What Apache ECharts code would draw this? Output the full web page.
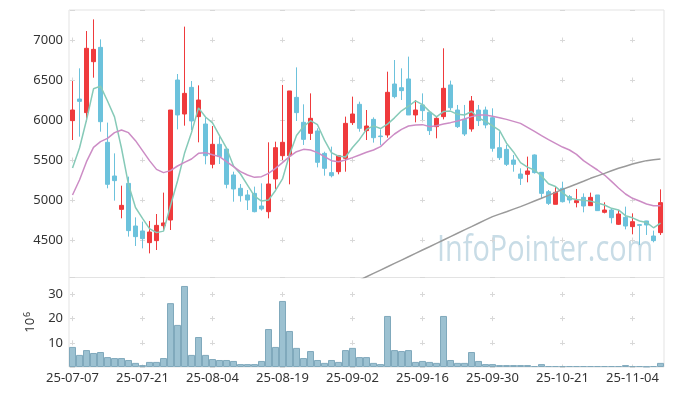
<!DOCTYPE html>
<html><head><meta charset="utf-8">
<script src="https://cdn.jsdelivr.net/npm/echarts@6/dist/echarts.min.js"></script>
<style>html,body{margin:0;padding:0;background:#fff}#c{width:673px;height:396px}</style>
</head><body><div id="c"></div>
<script>
const dates = ['25-07-07','25-07-08','25-07-09','25-07-10','25-07-11','25-07-14','25-07-15','25-07-16','25-07-17','25-07-18',
'25-07-21','25-07-22','25-07-23','25-07-24','25-07-25','25-07-28','25-07-29','25-07-30','25-07-31','25-08-01',
'25-08-04','25-08-05','25-08-06','25-08-07','25-08-08','25-08-11','25-08-12','25-08-13','25-08-14','25-08-18',
'25-08-19','25-08-20','25-08-21','25-08-22','25-08-25','25-08-26','25-08-27','25-08-28','25-08-29','25-09-01',
'25-09-02','25-09-03','25-09-04','25-09-05','25-09-08','25-09-09','25-09-10','25-09-11','25-09-12','25-09-15',
'25-09-16','25-09-17','25-09-18','25-09-19','25-09-22','25-09-23','25-09-24','25-09-25','25-09-26','25-09-29',
'25-09-30','25-10-01','25-10-02','25-10-10','25-10-13','25-10-14','25-10-15','25-10-16','25-10-17','25-10-20',
'25-10-21','25-10-22','25-10-23','25-10-24','25-10-27','25-10-28','25-10-29','25-10-30','25-10-31','25-11-03',
'25-11-04','25-11-05','25-11-06','25-11-07','25-11-10'];
const openP = [5992,6262,6092,6729,6908,5721,5300,4883,5208,4675,4613,4467,4492,4679,4750,6500,6075,6408,6042,5950,
5446,5696,5637,5313,5146,5063,5083,4925,4854,5263,5554,5554,6283,5971,5833,5863,5583,5342,5354,5521,
5967,6196,5867,6008,5800,5813,6450,6404,6513,6063,6188,6096,5917,6042,6438,6125,6008,5888,6125,6125,
6029,5654,5633,5500,5325,5321,5563,5346,5104,4946,5146,5042,4967,5033,4929,5063,4846,4875,4696,4783,
4667,4692,4738,4550,4592];
const closeP = [6125,6233,6896,6883,5979,5196,5242,4933,4617,4542,4517,4600,4683,4713,6125,6063,6333,5988,6250,5554,
5696,5542,5196,5138,5054,5000,4854,4888,5200,5654,5721,6363,6092,5758,6021,5471,5396,5304,5554,5958,
6075,5896,5925,5779,5792,6346,6292,6367,6063,6125,6117,5867,6021,6396,6154,5917,5825,6238,5992,5938,
5646,5529,5446,5446,5271,5363,5342,5083,4958,5096,4979,5000,4992,4925,5033,4867,4875,4779,4825,4675,
4729,4683,4688,4492,4967];
const lowP = [5750,5792,5979,6529,5854,5146,4992,4771,4542,4425,4396,4333,4375,4625,4625,5883,5929,5875,5721,5446,
5396,5450,5146,4979,4979,4875,4846,4867,4771,5138,5500,5196,5988,5688,5750,5408,5304,5283,5321,5354,
5938,5854,5750,5717,5688,5779,6271,6250,6063,5971,6000,5813,5771,6008,6125,5900,5800,5854,5925,5896,
5604,5500,5425,5354,5188,5221,5330,5013,4938,4946,4971,4958,4908,4846,4925,4863,4833,4708,4688,4633,
4571,4438,4563,4471,4563];
const highP = [6487,6646,7112,7258,7008,5967,5583,5179,5292,4783,4729,4738,4825,5092,6125,6575,7167,6487,6433,6033,
5925,5792,5650,5354,5200,5125,5167,5208,5721,5729,6438,6363,6658,6196,6333,5896,5604,5667,5563,6042,
6292,6229,6125,6033,5883,6604,6750,6646,6792,6250,6333,6113,6042,6896,6492,6188,6188,6300,6188,6167,
6146,5854,5688,5563,5396,5542,5570,5350,5125,5175,5229,5063,5138,5083,5092,5063,4971,4888,4875,4917,
4833,4700,4740,4617,5133];
const ma5 = [5400,5650,6000,6390,6423,6237,6039,5647,5193,4906,4770,4642,4592,4611,4928,5237,5583,5844,6152,6038,
5964,5806,5648,5425,5325,5186,5048,4987,4999,5119,5263,5565,5806,5918,5991,5941,5748,5590,5549,5537,
5657,5757,5882,5927,5893,5948,6027,6115,6172,6239,6193,6108,6039,6105,6111,6071,6063,6106,6025,5982,
5928,5869,5710,5601,5468,5411,5374,5301,5203,5168,5092,5023,5005,4998,4986,4963,4938,4896,4876,4804,
4777,4738,4720,4653,4712];
const ma20 = [5062,5250,5479,5658,5729,5771,5842,5875,5842,5742,5617,5492,5383,5342,5367,5425,5471,5512,5583,5592,
5565,5542,5479,5417,5354,5312,5283,5292,5333,5396,5467,5542,5604,5633,5625,5592,5542,5492,5479,5500,
5530,5562,5596,5625,5667,5750,5825,5883,5925,5938,5942,5917,5929,5950,5967,5987,6012,6042,6062,6062,
6046,6029,6008,5983,5958,5908,5858,5804,5754,5708,5662,5625,5571,5492,5433,5375,5312,5233,5150,5075,
5021,4987,4950,4929,4929];
const ma120 = [null,null,null,null,null,null,null,null,null,null,null,null,null,null,null,null,null,null,null,null,
null,null,null,null,null,null,null,null,null,null,null,null,null,null,null,null,null,null,null,null,
3956,3998,4040,4082,4124,4165,4207,4249,4291,4333,4375,4416,4458,4500,4542,4584,4626,4667,4709,4751,
4792,4823,4854,4886,4917,4952,4987,5022,5058,5095,5133,5166,5200,5235,5271,5302,5333,5365,5396,5423,
5450,5471,5492,5503,5512];
const volume = [8.3,5.0,7.0,5.8,6.2,4.1,3.7,3.7,2.9,1.7,0.8,2.1,2.1,3.7,26.4,17.4,33.5,5.0,12.4,5.0,
3.3,2.9,2.9,2.5,1.2,1.2,1.2,2.5,15.7,8.3,27.3,14.9,7.9,3.7,6.6,2.9,1.7,2.9,2.1,7.0,
7.9,4.1,4.1,1.7,1.2,21.1,7.0,6.6,7.0,2.1,2.5,2.1,1.7,21.1,2.9,1.7,1.7,6.2,2.5,1.2,
1.2,0.8,0.8,0.8,0.8,0.8,0.4,1.2,0.4,0.4,0.4,0.4,0.4,0.4,0.4,0.4,0.4,0.4,0.4,0.8,
0.4,0.4,0.2,0.4,1.7];

const candles = dates.map((d, i) => [openP[i], closeP[i], lowP[i], highP[i]]);
const font = 'Noto Sans';
const gridColor = '#e3e3e3';
const crossColor = '#d8d8d8';

const chart = echarts.init(document.getElementById('c'), null, {renderer: 'canvas'});
chart.setOption({
  animation: false,
  backgroundColor: '#fff',
  graphic: [{
    type: 'text', left: 437, top: 232, z: 0, silent: true, scaleX: 0.78,
    style: {text: 'InfoPointer.com', fill: '#c8dce6', font: '37px "Open Sans"'}
  }],
  grid: [
    {left: 69, top: 10, width: 595, height: 267.5, show: true, borderColor: gridColor, borderWidth: 1, backgroundColor: 'transparent'},
    {left: 69, top: 277.5, width: 595, height: 89.5, show: true, borderColor: gridColor, borderWidth: 1, backgroundColor: 'transparent'}
  ],
  xAxis: [
    {type: 'category', gridIndex: 0, data: dates, boundaryGap: true,
     axisLine: {show: false}, axisTick: {show: false}, axisLabel: {show: false},
     splitLine: {show: true, interval: 9, alignWithLabel: true, lineStyle: {color: crossColor, width: 1, type: [5, 35], dashOffset: 12.5}}},
    {type: 'category', gridIndex: 1, data: dates, boundaryGap: true,
     axisLine: {show: false}, axisTick: {show: false},
     axisLabel: {interval: 9, fontSize: 13, color: '#333', margin: 5, fontFamily: font},
     splitLine: {show: true, interval: 9, alignWithLabel: true, lineStyle: {color: crossColor, width: 1, type: [5, 19.19], dashOffset: 9.76}}}
  ],
  yAxis: [
    {type: 'value', gridIndex: 0, min: 4031.25, max: 7375, splitNumber: 5,
     axisLine: {show: false}, axisTick: {show: false},
     axisLabel: {fontSize: 13, color: '#333', margin: 6, fontFamily: font,
       formatter: v => (Math.abs(v % 500) < 1e-6 ? String(v) : '')},
     splitLine: {show: true, lineStyle: {color: crossColor, width: 1, type: [5, 65], dashOffset: 69}}},
    {type: 'value', gridIndex: 1, min: 0, max: 37, interval: 10,
     axisLine: {show: false}, axisTick: {show: false},
     axisLabel: {fontSize: 13, color: '#333', margin: 6, fontFamily: font,
       formatter: v => (v > 0 && Math.abs(v % 10) < 1e-6 ? String(v) : '')},
     splitLine: {show: true, lineStyle: {color: crossColor, width: 1, type: [5, 65], dashOffset: 69}},
     name: '{a|10}{b|6}', nameLocation: 'middle', nameRotate: 90, nameGap: 30,
     nameTextStyle: {color: '#333', fontFamily: font,
       rich: {a: {fontSize: 13, color: '#333', fontFamily: font, lineHeight: 16},
              b: {fontSize: 9, color: '#333', fontFamily: font, verticalAlign: 'top', lineHeight: 16, padding: [0, 0, 0, 1]}}}}
  ],
  series: [
    {type: 'candlestick', xAxisIndex: 0, yAxisIndex: 0, data: candles, barWidth: 5,
     itemStyle: {color: '#ef3a3c', color0: '#6cc2dc', borderColor: '#ef3a3c', borderColor0: '#6cc2dc', borderWidth: 1}},
    {type: 'line', xAxisIndex: 0, yAxisIndex: 0, data: ma5, showSymbol: false, symbol: 'none',
     lineStyle: {color: '#86cab8', width: 1.5}, z: 3},
    {type: 'line', xAxisIndex: 0, yAxisIndex: 0, data: ma20, showSymbol: false, symbol: 'none',
     lineStyle: {color: '#cc8cc5', width: 1.5}, z: 3},
    {type: 'line', xAxisIndex: 0, yAxisIndex: 0, data: ma120, showSymbol: false, symbol: 'none', connectNulls: false,
     lineStyle: {color: '#9a9a9a', width: 1.5}, z: 3},
    {type: 'bar', xAxisIndex: 1, yAxisIndex: 1, data: volume, barWidth: '100%', barCategoryGap: 0,
     itemStyle: {color: '#9cc1d1', borderColor: '#80a9bc', borderWidth: 1}}
  ]
});
</script>
</body></html>
